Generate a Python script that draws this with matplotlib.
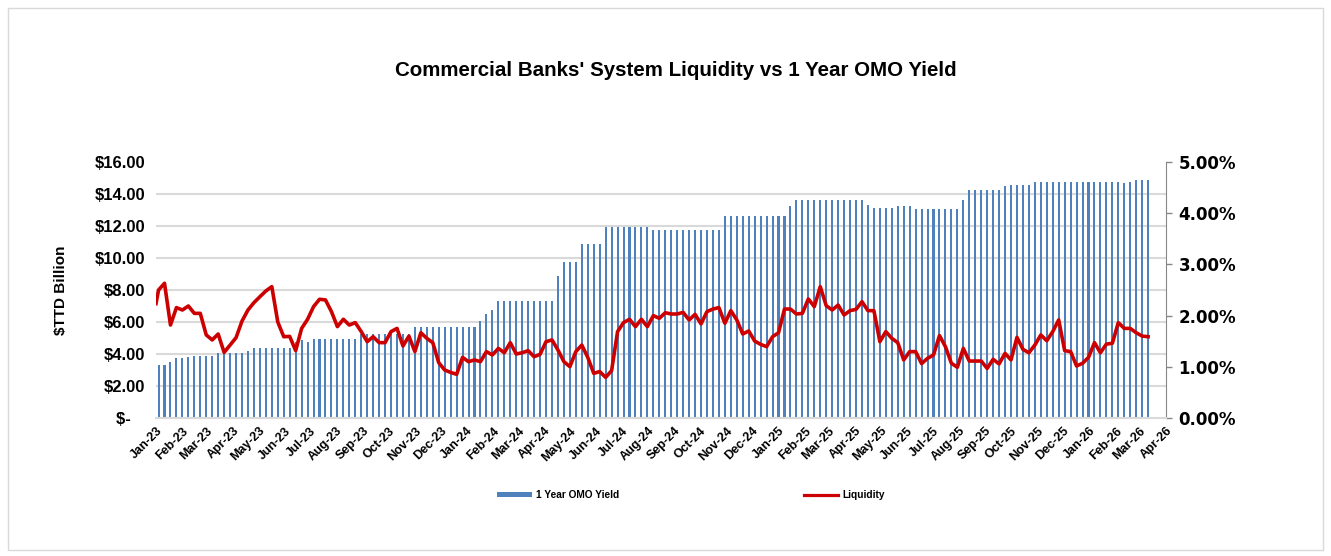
import pandas as pd
import matplotlib
matplotlib.use("Agg")
import matplotlib.pyplot as plt
import matplotlib.dates as mdates
from matplotlib.ticker import MultipleLocator, FuncFormatter
from matplotlib.patches import Rectangle
from matplotlib.lines import Line2D

plt.rcParams["font.family"] = ["Liberation Sans", "DejaVu Sans"]
plt.rcParams["font.weight"] = "bold"

# weekly observations, first one on this date
week_start = "2023-01-04"

# 1 Year OMO yield, % (right axis)
omo_yield = [
    1.03, 1.03, 1.10, 1.18, 1.18, 1.19, 1.22, 1.22, 1.22, 1.22,
    1.26, 1.26, 1.26, 1.26, 1.26, 1.30, 1.36, 1.36, 1.36, 1.36,
    1.36, 1.36, 1.36, 1.49, 1.52, 1.49, 1.54, 1.54, 1.54, 1.54,
    1.54, 1.54, 1.54, 1.54, 1.65, 1.65, 1.65, 1.65, 1.65, 1.65,
    1.65, 1.65, 1.65, 1.78, 1.78, 1.78, 1.78, 1.78, 1.78, 1.78,
    1.78, 1.78, 1.78, 1.78, 1.89, 2.03, 2.11, 2.28, 2.28, 2.28,
    2.28, 2.28, 2.28, 2.28, 2.28, 2.28, 2.28, 2.77, 3.05, 3.05,
    3.05, 3.40, 3.40, 3.40, 3.40, 3.74, 3.74, 3.74, 3.74, 3.74,
    3.74, 3.74, 3.74, 3.67, 3.67, 3.67, 3.67, 3.67, 3.67, 3.67,
    3.67, 3.67, 3.67, 3.67, 3.67, 3.95, 3.95, 3.95, 3.95, 3.95,
    3.95, 3.95, 3.95, 3.95, 3.95, 3.95, 4.14, 4.26, 4.26, 4.26,
    4.26, 4.26, 4.26, 4.26, 4.26, 4.26, 4.26, 4.26, 4.26, 4.16,
    4.11, 4.11, 4.11, 4.11, 4.14, 4.14, 4.14, 4.09, 4.09, 4.09,
    4.09, 4.09, 4.09, 4.09, 4.09, 4.26, 4.45, 4.45, 4.45, 4.45,
    4.45, 4.45, 4.54, 4.56, 4.56, 4.56, 4.56, 4.60, 4.60, 4.60,
    4.60, 4.60, 4.60, 4.60, 4.60, 4.60, 4.60, 4.60, 4.60, 4.60,
    4.61, 4.60, 4.59, 4.60, 4.64, 4.64, 4.64,
]

# system liquidity, $TTD billion (left axis)
liquidity = [
    8.00, 8.42, 5.81, 6.90, 6.75, 7.00, 6.54, 6.54, 5.19, 4.88,
    5.25, 4.10, 4.56, 5.02, 6.06, 6.75, 7.21, 7.58, 7.94, 8.21,
    6.00, 5.08, 5.10, 4.21, 5.60, 6.17, 6.96, 7.42, 7.38, 6.65,
    5.71, 6.17, 5.81, 5.96, 5.40, 4.77, 5.08, 4.71, 4.71, 5.40,
    5.60, 4.50, 5.12, 4.15, 5.33, 4.98, 4.71, 3.46, 3.00, 2.85,
    2.73, 3.79, 3.52, 3.63, 3.52, 4.15, 3.94, 4.35, 4.08, 4.71,
    4.00, 4.08, 4.21, 3.83, 3.98, 4.77, 4.88, 4.25, 3.52, 3.21,
    4.15, 4.56, 3.79, 2.79, 2.90, 2.54, 2.96, 5.40, 5.96, 6.17,
    5.71, 6.17, 5.71, 6.40, 6.23, 6.58, 6.50, 6.50, 6.60, 6.13,
    6.48, 5.88, 6.65, 6.81, 6.90, 5.92, 6.71, 6.13, 5.25, 5.44,
    4.81, 4.60, 4.46, 5.08, 5.33, 6.81, 6.81, 6.50, 6.54, 7.44,
    6.96, 8.21, 7.02, 6.75, 7.06, 6.44, 6.71, 6.79, 7.27, 6.71,
    6.71, 4.77, 5.40, 4.98, 4.71, 3.63, 4.15, 4.15, 3.40, 3.73,
    3.94, 5.15, 4.46, 3.42, 3.17, 4.35, 3.56, 3.56, 3.56, 3.10,
    3.67, 3.38, 4.04, 3.63, 5.04, 4.29, 4.08, 4.56, 5.19, 4.83,
    5.40, 6.13, 4.21, 4.15, 3.25, 3.42, 3.79, 4.71, 4.08, 4.62,
    4.67, 5.96, 5.60, 5.60, 5.33, 5.12, 5.08,
]
# the line has one extra reading at the very start of the axis
liq_open_date = "2023-01-01"
liq_open_value = 7.15

dates = pd.date_range(week_start, periods=len(omo_yield), freq="7D")
liq_dates = [pd.Timestamp(liq_open_date)] + list(dates)
liq_values = [liq_open_value] + liquidity

BLUE = "#4F81BD"
RED = "#CC0000"
GRID = "#D9D9D9"
AXIS = "#868686"

W, H = 1331, 556
fig = plt.figure(figsize=(W / 100, H / 100), dpi=100)
fig.patches.append(Rectangle((8 / W, 6 / H), 1315 / W, 542 / H, transform=fig.transFigure,
                             fill=False, edgecolor=GRID, linewidth=1.0))

ax2 = fig.add_axes([156 / W, 1 - 418 / H, 1010 / W, 256 / H])
ax = ax2.twinx()  # liquidity on the left, drawn on top of the bars
ax.yaxis.tick_left()
ax.yaxis.set_label_position("left")
ax2.yaxis.tick_right()
ax2.yaxis.set_label_position("right")
ax.set_zorder(ax2.get_zorder() + 1)
ax.patch.set_visible(False)

# bars - 1 year OMO yield
ax2.bar(dates, omo_yield, width=2.4, color=BLUE, linewidth=0, zorder=2)
ax2.set_ylim(0, 5)
ax2.yaxis.set_major_locator(MultipleLocator(1))
ax2.yaxis.set_major_formatter(FuncFormatter(lambda v, p: f"{v:.2f}%"))
ax2.yaxis.set_minor_locator(MultipleLocator(5 / 8))
ax2.grid(which="minor", axis="y", color=GRID, linewidth=1.5, zorder=0)
ax2.set_axisbelow(True)
ax2.tick_params(axis="y", which="major", length=4, width=1, color=AXIS, pad=5)
ax2.tick_params(axis="y", which="minor", length=0)
for lbl in ax2.get_yticklabels():
    lbl.set_fontfamily("DejaVu Sans")
    lbl.set_fontsize(12)

# line - liquidity
ax.plot(liq_dates, liq_values, color=RED, linewidth=2.6, solid_joinstyle="round", zorder=3)
ax.set_ylim(0, 16)
ax.yaxis.set_major_locator(MultipleLocator(2))
ax.yaxis.set_major_formatter(FuncFormatter(lambda v, p: "$-   " if v == 0 else f"${v:.2f}"))
ax.tick_params(axis="y", length=0, pad=8, labelsize=12)
ax.set_ylabel("$TTD Billion", fontsize=11, fontweight="bold")
ax.yaxis.set_label_coords(-0.087, 0.5)

ax2.set_xlim(pd.Timestamp("2023-01-01"), pd.Timestamp("2026-04-01"))
ax2.xaxis.set_major_locator(mdates.MonthLocator())
ax2.xaxis.set_major_formatter(mdates.DateFormatter("%b-%y"))
ax2.tick_params(axis="x", length=0, pad=5, labelsize=9)
for lbl in ax2.get_xticklabels():
    lbl.set_rotation(45)
    lbl.set_ha("right")
    lbl.set_rotation_mode("anchor")

for a in (ax, ax2):
    for side in ("top", "left", "right", "bottom"):
        a.spines[side].set_visible(False)
ax2.spines["right"].set_visible(True)
ax2.spines["right"].set_color(AXIS)
ax2.spines["bottom"].set_visible(True)
ax2.spines["bottom"].set_color(GRID)
ax2.spines["bottom"].set_linewidth(1.5)

fig.text(676 / W, 1 - 70 / H, "Commercial Banks' System Liquidity vs 1 Year OMO Yield",
         ha="center", va="center", fontsize=14.8, fontweight="bold")

handles = [Rectangle((0, 0), 1, 1, facecolor=BLUE, edgecolor="none"),
           Line2D([], [], color=RED, linewidth=2.3)]
fig.legend(handles, ["1 Year OMO Yield", "Liquidity"], loc="center",
           bbox_to_anchor=(691 / W, 1 - 495 / H), ncol=2, frameon=False,
           fontsize=7.3, handlelength=3.4, handleheight=0.5, handletextpad=0.4,
           columnspacing=18.2)

fig.savefig("out.png", dpi=100)
